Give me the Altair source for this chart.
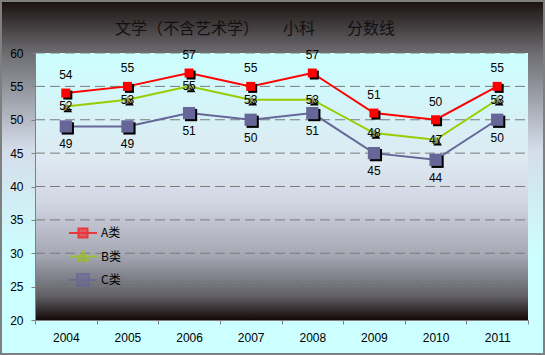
import altair as alt
import pandas as pd

years = ["2004", "2005", "2006", "2007", "2008", "2009", "2010", "2011"]
series_names = ["A类", "B类", "C类"]
a_vals = [54, 55, 57, 55, 57, 51, 50, 55]
b_vals = [52, 53, 55, 53, 53, 48, 47, 53]
c_vals = [49, 49, 51, 50, 51, 45, 44, 50]
y_ticks = [20, 25, 30, 35, 40, 45, 50, 55, 60]
grid_vals = [25, 30, 35, 40, 45, 50, 55, 60]

title_text = "文学（不含艺术学）\u3000\u3000小科\u3000\u3000分数线"

rows = []
for name, vals in zip(series_names, [a_vals, b_vals, c_vals]):
    for yr, v in zip(years, vals):
        rows.append({"year": yr, "series": name, "value": v})
df = pd.DataFrame(rows)

W, H = 493, 267
PL, PT, PR, PB = 35, 53, 17, 35

line_colors = {"A类": "#ff0000", "B类": "#99cc00", "C类": "#666699"}
marker_fill = {"A类": "#ff0000", "B类": "#9a9a5e", "C类": "#666699"}
marker_shape = {"A类": "square", "B类": "triangle-up", "C类": "square"}
marker_size = {"A类": 81, "B类": 75, "C类": 150}
label_dy = {"A类": -18, "B类": 0, "C类": 18}

legend_paths = [
    "M-2.8,0H2.8M-0.9,-0.9H0.9V0.9H-0.9Z",
    "M-2.8,0H2.8M0,-1L1,0.8H-1Z",
    "M-2.8,0H2.8M-1.2,-1.2H1.2V1.2H-1.2Z",
]

xscale = alt.Scale(domain=years, paddingInner=0, paddingOuter=0)
yscale = alt.Scale(domain=[20, 60], nice=False, zero=False)

xaxis = alt.Axis(title=None, labelAngle=0, tickBand="extent", domainColor="#808080",
                 tickColor="#808080", tickSize=4, labelPadding=8,
                 labelFont="Liberation Sans", labelFontSize=12, labelColor="#000000",
                 zindex=1, grid=False)
yaxis = alt.Axis(title=None, values=y_ticks, domainColor="#808080", tickColor="#808080",
                 tickSize=4, labelPadding=8, labelFont="Liberation Sans",
                 labelFontSize=12, labelColor="#000000", zindex=1, grid=False)

X = alt.X("year:O", scale=xscale, bandPosition=0.5, axis=xaxis)
Y = alt.Y("value:Q", scale=yscale, axis=yaxis)

one = pd.DataFrame({"k": [0]})

outer_grad = alt.Gradient(
    gradient="linear", x1=0, x2=0, y1=0, y2=1,
    stops=[alt.GradientStop(color="#1a1010", offset=0),
           alt.GradientStop(color="#6e6e72", offset=0.15),
           alt.GradientStop(color="#d4dcea", offset=0.42),
           alt.GradientStop(color="#ccffff", offset=0.72),
           alt.GradientStop(color="#ccffff", offset=1)])
plot_grad = alt.Gradient(
    gradient="linear", x1=0, x2=0, y1=0, y2=1,
    stops=[alt.GradientStop(color="#ccffff", offset=0),
           alt.GradientStop(color="#dde9f1", offset=0.4),
           alt.GradientStop(color="#d2d6e2", offset=0.56),
           alt.GradientStop(color="#a4a6b2", offset=0.76),
           alt.GradientStop(color="#606066", offset=0.91),
           alt.GradientStop(color="#140808", offset=1)])

outer = alt.Chart(one).mark_rect(fill=outer_grad, stroke="#7f7f7f", strokeWidth=2).encode(
    x=alt.value(-PL + 1), x2=alt.value(W + PR - 1),
    y=alt.value(-PT + 1), y2=alt.value(H + PB - 1))
inner = alt.Chart(one).mark_rect(fill=plot_grad).encode(
    x=alt.value(0), x2=alt.value(W), y=alt.value(0), y2=alt.value(H))

grid = alt.Chart(pd.DataFrame({"g": grid_vals})).mark_rule(
    color="#7a7a7a", strokeWidth=1, strokeDash=[10, 5]).encode(
    y=alt.Y("g:Q", scale=yscale, axis=yaxis),
    x=alt.value(0), x2=alt.value(W))

layers = [outer, inner, grid]

for name in series_names:
    base = alt.Chart(df).transform_filter(alt.datum.series == name)
    layers.append(base.mark_line(color=line_colors[name], strokeWidth=2).encode(x=X, y=Y))
for name in series_names:
    base = alt.Chart(df).transform_filter(alt.datum.series == name)
    layers.append(base.mark_point(shape=marker_shape[name], size=marker_size[name], filled=True,
                                  color="#000000", opacity=1, xOffset=2, yOffset=2).encode(x=X, y=Y))
    layers.append(base.mark_point(shape=marker_shape[name], size=marker_size[name], filled=True,
                                  color=marker_fill[name], opacity=1).encode(x=X, y=Y))
for name in series_names:
    base = alt.Chart(df).transform_filter(alt.datum.series == name)
    layers.append(base.mark_text(font="Liberation Sans", fontSize=12, color="#000000",
                                 dy=label_dy[name], baseline="middle").encode(
        x=X, y=Y, text=alt.Text("value:Q")))

leg = alt.Legend(title=None, orient="none", legendX=42, legendY=174, symbolSize=100,
                 symbolStrokeWidth=2, labelFont="Noto Sans CJK SC", labelFontSize=12,
                 labelColor="#000000", rowPadding=5.5, labelOffset=12, padding=0)
legend_layer = alt.Chart(df).transform_filter("false").mark_point(filled=True).encode(
    x=X, y=Y,
    fill=alt.Fill("series:N", scale=alt.Scale(domain=series_names,
                                              range=[marker_fill[n] for n in series_names]), legend=leg),
    stroke=alt.Stroke("series:N", scale=alt.Scale(domain=series_names,
                                                  range=[line_colors[n] for n in series_names]), legend=leg),
    shape=alt.Shape("series:N", scale=alt.Scale(domain=series_names, range=legend_paths), legend=leg),
)
layers.append(legend_layer)

chart = alt.layer(*layers).properties(
    width=W, height=H,
    title=alt.TitleParams(title_text, anchor="start", dx=115, dy=67, offset=14, baseline="bottom",
                          font="Noto Sans CJK SC", fontSize=16, fontWeight="normal", color="#111111"),
    autosize=alt.AutoSizeParams(type="none"),
    padding={"left": PL, "top": PT, "right": PR, "bottom": PB},
).configure_view(stroke=None).configure(background="#ccffff")

chart.save("out.html", embed_options={"renderer": "svg", "actions": False})
